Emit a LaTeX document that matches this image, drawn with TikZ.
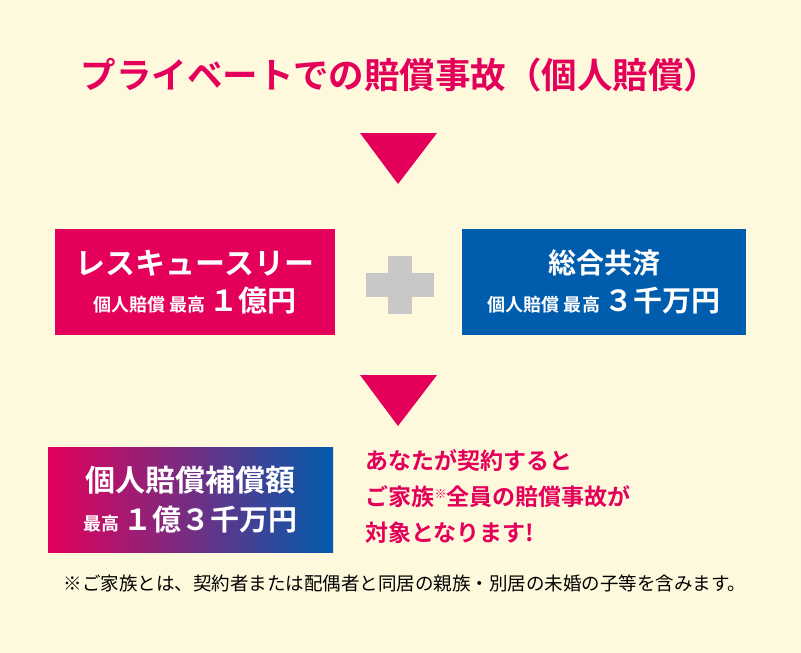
\documentclass[tikz,border=0pt]{standalone}
\usepackage{fontspec}
\newfontfamily\jp{Noto Sans CJK JP}[BoldFont={Noto Sans CJK JP Bold}]
\usetikzlibrary{positioning}
\definecolor{bgcream}{RGB}{254,249,220}
\definecolor{rspink}{RGB}{228,0,90}
\definecolor{kyblue}{RGB}{0,92,172}
\definecolor{plusgray}{RGB}{200,200,200}
\tikzset{
  downtri/.style={fill=rspink},
  planbox/.style={minimum width=280pt, minimum height=106pt, align=center, text=white, font=\jp\bfseries},
}
\newcommand{\bigfig}[1]{{\fontsize{29}{34}\selectfont #1}}
\begin{document}
\begin{tikzpicture}[x=1pt,y=-1pt]
\fill[bgcream] (0,0) rectangle (801,653);
\useasboundingbox (0,0) rectangle (801,653);

% title
\node[text=rspink, font=\jp\bfseries\fontsize{35.5}{40}\selectfont] (title) at (400,75) {プライベートでの賠償事故（個人賠償）};

% arrows down
\fill[downtri] (360,133) -- (437,133) -- (398,184) -- cycle;
\fill[downtri] (360,375) -- (437,375) -- (398,426) -- cycle;

% plans
\node[planbox, fill=rspink] (rescue) at (195,282) {\fontsize{30}{36}\selectfont レスキュースリー\\[10pt]
  {\fontsize{18}{20}\selectfont 個人賠償 最高 }\bigfig{１億円}};
\node[planbox, fill=kyblue, minimum width=284pt] (kyosai) at (604,282) {\fontsize{28}{34}\selectfont 総合共済\\[10pt]
  {\fontsize{18}{20}\selectfont 個人賠償 最高 }\bigfig{３千万円}};
\fill[plusgray] (388,256) rectangle (412,314);
\fill[plusgray] (366,273) rectangle (434,297);

% total
\shade[left color=rspink, right color=kyblue] (48,447) rectangle (333,552);
\node[planbox, minimum width=285pt, minimum height=105pt] (total) at (190.5,499.5) {\fontsize{30}{36}\selectfont 個人賠償補償額\\[10pt]
  {\fontsize{18}{20}\selectfont 最高 }\bigfig{１億３千万円}};

% note
\node[anchor=north west, text=rspink, align=left, font=\jp\bfseries\fontsize{23}{36}\selectfont] (note) at (362,446)
  {あなたが契約すると\\ご家族{\fontsize{12}{12}\selectfont\raisebox{7pt}{※}}全員の賠償事故が\\対象となります!};

% footnote
\node[font=\jp\fontsize{18.5}{22}\selectfont] (foot) at (405,583) {※ご家族とは、契約者または配偶者と同居の親族・別居の未婚の子等を含みます。};
\end{tikzpicture}
\end{document}
